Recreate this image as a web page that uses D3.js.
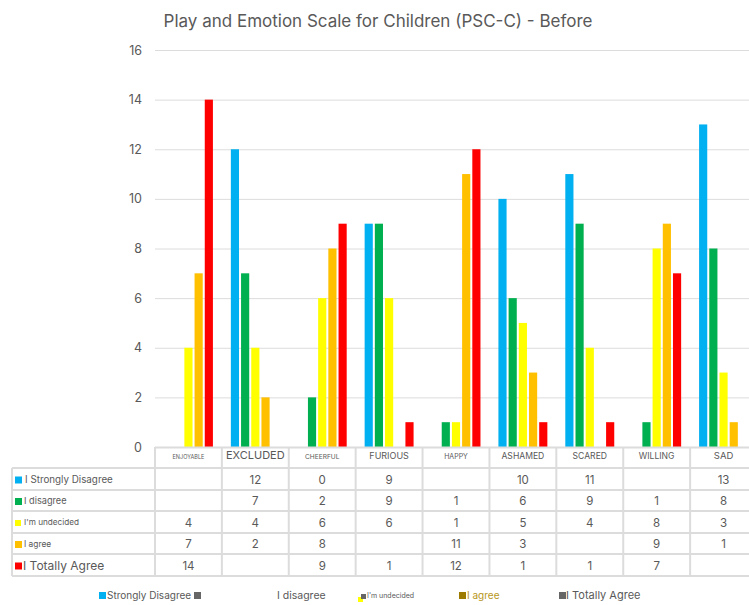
<!DOCTYPE html>
<html>
<head>
<meta charset="utf-8">
<script src="https://cdn.jsdelivr.net/npm/d3@7"></script>
<style>
  html, body { margin: 0; padding: 0; background: #fff; }
  svg { display: block; font-family: Inter, Roboto, "Liberation Sans", Arial, sans-serif; }
</style>
</head>
<body>
<svg id="chart" width="749" height="605"></svg>
<script>
// Emotion words shown along the category axis
const categories = ["ENJOYABLE", "EXCLUDED", "CHEERFUL", "FURIOUS", "HAPPY", "ASHAMED", "SCARED", "WILLING", "SAD"];

// Response options (series)
const seriesNames = ["I Strongly Disagree", "I disagree", "I'm undecided", "I agree", "I Totally Agree"];

// Counts per category; null = no answer recorded
const stronglyDisagree = [null, 12, 0, 9, null, 10, 11, null, 13];
const disagree         = [null, 7, 2, 9, 1, 6, 9, 1, 8];
const undecided        = [4, 4, 6, 6, 1, 5, 4, 8, 3];
const agree            = [7, 2, 8, null, 11, 3, null, 9, 1];
const totallyAgree     = [14, null, 9, 1, 12, 1, 1, 7, null];

const yTicks = [0, 2, 4, 6, 8, 10, 12, 14, 16];

// Legend entries along the bottom
const legendLabels = ["Strongly Disagree", "I disagree", "I'm undecided", "I agree", "I Totally Agree"];

const seriesValues = [stronglyDisagree, disagree, undecided, agree, totallyAgree];
const colors = ["#00b0f0", "#00b050", "#ffff00", "#ffc000", "#ff0000"];

const svg = d3.select("#chart");
const textGrey = "#595959";
const lineGrey = "#dcdcdc";

const plotLeft = 155, plotRight = 757;
const plotTop = 50, plotBottom = 447;

const x0 = d3.scaleBand().domain(categories).range([plotLeft, plotRight]).padding(0);
const x1 = d3.scaleBand().domain(d3.range(seriesNames.length))
  .range([0, x0.bandwidth()]).paddingInner(0.2).paddingOuter(0.88);
const y = d3.scaleLinear().domain([0, 16]).range([plotBottom, plotTop]);

// Title
svg.append("text")
  .attr("x", 378).attr("y", 27)
  .attr("text-anchor", "middle")
  .attr("font-size", 17)
  .attr("fill", textGrey)
  .text("Play and Emotion Scale for Children (PSC-C) - Before");

// Gridlines
const grid = svg.append("g")
  .attr("transform", `translate(${plotLeft},0)`)
  .call(d3.axisLeft(y).tickValues(yTicks).tickSize(-(plotRight - plotLeft)).tickFormat(""));
grid.select(".domain").remove();
grid.selectAll("line").attr("stroke", lineGrey).attr("stroke-width", 1);

// Y labels
const yAxis = svg.append("g")
  .attr("transform", `translate(142,0)`)
  .call(d3.axisLeft(y).tickValues(yTicks).tickSize(0).tickPadding(0));
yAxis.select(".domain").remove();
yAxis.selectAll("text").attr("font-size", 12.5).attr("fill", textGrey)
  .attr("font-family", "Inter, Roboto, sans-serif");

// Bars
const groups = svg.append("g").selectAll("g")
  .data(categories)
  .join("g")
  .attr("transform", d => `translate(${x0(d)},0)`);

groups.selectAll("rect")
  .data((d, i) => seriesValues.map((vals, s) => ({ s, v: vals[i] })).filter(e => e.v))
  .join("rect")
  .attr("x", d => x1(d.s))
  .attr("width", x1.bandwidth())
  .attr("y", d => y(d.v))
  .attr("height", d => y(0) - y(d.v))
  .attr("fill", d => colors[d.s]);

// Data table below the axis
const tableLeft = 12;
const headerTop = plotBottom;
const rowEdges = [468, 490, 511, 533, 554, 576];
const tbl = svg.append("g");

tbl.append("line").attr("x1", plotLeft).attr("x2", plotRight)
  .attr("y1", headerTop + 0.5).attr("y2", headerTop + 0.5).attr("stroke", lineGrey).attr("stroke-width", 2);
rowEdges.forEach(yy => {
  tbl.append("line").attr("x1", tableLeft).attr("x2", plotRight)
    .attr("y1", yy).attr("y2", yy).attr("stroke", lineGrey).attr("stroke-width", 2);
});
tbl.append("line").attr("x1", tableLeft).attr("x2", tableLeft)
  .attr("y1", rowEdges[0]).attr("y2", rowEdges[rowEdges.length - 1]).attr("stroke", lineGrey).attr("stroke-width", 2);
categories.forEach(c => {
  tbl.append("line").attr("x1", x0(c)).attr("x2", x0(c))
    .attr("y1", headerTop).attr("y2", rowEdges[rowEdges.length - 1])
    .attr("stroke", lineGrey).attr("stroke-width", 2);
});

// category header labels (the source sheet uses uneven label sizes)
const headerSize = { ENJOYABLE: 5.5, EXCLUDED: 11, CHEERFUL: 6.6, FURIOUS: 9, HAPPY: 7, ASHAMED: 8.6, SCARED: 8.6, WILLING: 8.6, SAD: 9.5 };
tbl.selectAll("text.cat")
  .data(categories)
  .join("text")
  .attr("class", "cat")
  .attr("x", d => x0(d) + x0.bandwidth() / 2)
  .attr("y", 459)
  .attr("text-anchor", "middle")
  .attr("font-size", d => headerSize[d])
  .attr("fill", textGrey)
  .text(d => d);

// row labels with colour keys
const rowLabelSize = [9.8, 9.2, 8.2, 8.4, 12];
const rowLabelX = [25, 24, 24, 24, 23];
seriesNames.forEach((name, s) => {
  const cy = (rowEdges[s] + rowEdges[s + 1]) / 2;
  const sw = s === 2 ? 6 : 7;
  tbl.append("rect")
    .attr("x", 15).attr("y", cy - sw / 2 + 1)
    .attr("width", sw).attr("height", sw)
    .attr("fill", colors[s]);
  tbl.append("text")
    .attr("x", rowLabelX[s]).attr("y", cy + rowLabelSize[s] * 0.36 + 0.5)
    .attr("font-size", rowLabelSize[s])
    .attr("fill", textGrey)
    .text(name);
  categories.forEach((c, i) => {
    const v = seriesValues[s][i];
    if (v === null) return;
    tbl.append("text")
      .attr("x", x0(c) + x0.bandwidth() / 2)
      .attr("y", cy + 4.5)
      .attr("text-anchor", "middle")
      .attr("font-size", 11.5)
      .attr("fill", textGrey)
      .text(v);
  });
});

// Legend
const lg = svg.append("g");
const ly = 595;
lg.append("rect").attr("x", 99).attr("y", ly - 3).attr("width", 7).attr("height", 7).attr("fill", colors[0]);
lg.append("text").attr("x", 107).attr("y", ly + 4).attr("font-size", 10).attr("fill", textGrey).text(legendLabels[0]);
lg.append("rect").attr("x", 194).attr("y", ly - 3).attr("width", 7).attr("height", 7).attr("fill", "#666");
lg.append("text").attr("x", 277).attr("y", ly + 4).attr("font-size", 10.5).attr("fill", textGrey).text(legendLabels[1]);
lg.append("rect").attr("x", 358).attr("y", ly + 2).attr("width", 5).attr("height", 5).attr("fill", colors[2]);
lg.append("rect").attr("x", 361).attr("y", ly - 1).attr("width", 5).attr("height", 5).attr("fill", "#666");
lg.append("text").attr("x", 367).attr("y", ly + 3).attr("font-size", 7).attr("fill", textGrey).text(legendLabels[2]);
lg.append("rect").attr("x", 459).attr("y", ly - 3).attr("width", 7).attr("height", 7).attr("fill", "#9c7b00");
lg.append("text").attr("x", 467).attr("y", ly + 4).attr("font-size", 10).attr("fill", "#b8961a").text(legendLabels[3]);
lg.append("rect").attr("x", 559).attr("y", ly - 3).attr("width", 7).attr("height", 7).attr("fill", "#666");
lg.append("text").attr("x", 566).attr("y", ly + 4).attr("font-size", 11).attr("fill", textGrey).text(legendLabels[4]);
</script>
</body>
</html>
